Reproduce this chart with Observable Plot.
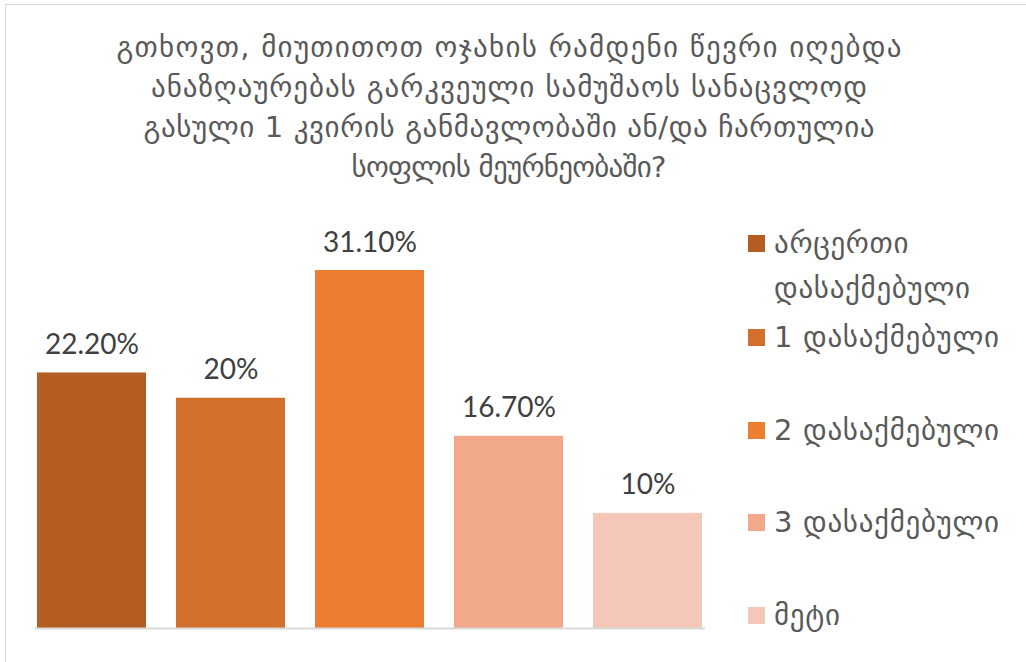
<!DOCTYPE html>
<html>
<head>
<meta charset="utf-8">
<script src="https://cdn.jsdelivr.net/npm/d3@7"></script>
<script src="https://cdn.jsdelivr.net/npm/@observablehq/plot@0.6"></script>
<style>
  html, body { margin: 0; padding: 0; background: #fff; }
  #wrap { position: relative; width: 1026px; height: 662px; overflow: hidden; background: #fff; }
  #frame { position: absolute; left: 5px; top: 4px; width: 1040px; height: 680px; border: 1.5px solid #d9d9d9; box-sizing: border-box; }
  #title { position: absolute; left: 0; width: 1018px; top: 27px; text-align: center; font-family: "DejaVu Sans", sans-serif; font-size: 29px; line-height: 40px; color: #595959; }
  #title span { display: inline-block; white-space: nowrap; }
  #chart { position: absolute; left: 0; top: 0; }
  .leg { position: absolute; left: 748px; display: flex; align-items: flex-start; font-family: "DejaVu Sans", sans-serif; font-size: 29px; line-height: 45px; color: #595959; }
  .leg span { white-space: nowrap; }
  .sw { width: 17px; height: 17px; margin-top: 14px; margin-right: 9px; flex: none; }
</style>
</head>
<body>
<div id="wrap">
  <div id="frame"></div>
  <div id="title"></div>
  <div id="chart"></div>
  <div id="legend"></div>
</div>
<script>
const titleLines = [
  "გთხოვთ, მიუთითოთ ოჯახის რამდენი წევრი იღებდა",
  "ანაზღაურებას გარკვეული სამუშაოს სანაცვლოდ",
  "გასული 1 კვირის განმავლობაში ან/და ჩართულია",
  "სოფლის მეურნეობაში?"
];
const titleWidths = [785, 716, 731, 315];
const categories = ["არცერთი დასაქმებული", "1 დასაქმებული", "2 დასაქმებული", "3 დასაქმებული", "მეტი"];
const legendLines = [["არცერთი", "დასაქმებული"], ["1 დასაქმებული"], ["2 დასაქმებული"], ["3 დასაქმებული"], ["მეტი"]];
const values = [22.2, 20, 31.1, 16.7, 10];
const valueLabels = ["22.20%", "20%", "31.10%", "16.70%", "10%"];
const colors = ["#B45D23", "#D36F2D", "#ED7D31", "#F1A88B", "#F5C7B8"];
const legendTops = [221, 315, 408, 500, 593];

const title = document.getElementById("title");
titleLines.forEach((l, i) => {
  const row = document.createElement("div");
  const s = document.createElement("span");
  s.textContent = l;
  row.appendChild(s);
  title.appendChild(row);
  const w = s.getBoundingClientRect().width;
  const n = [...l].length;
  const ls = (titleWidths[i] - w) / (n - 1);
  s.style.letterSpacing = ls + "px";
  s.style.marginRight = (-ls) + "px";
});

const data = categories.map((c, i) => ({cat: c, value: values[i], label: valueLabels[i]}));

const chart = Plot.plot({
  width: 720,
  height: 662,
  marginLeft: 35,
  marginRight: 15,
  marginTop: 270,
  marginBottom: 34,
  x: {domain: categories, paddingInner: 0.214, paddingOuter: 0, axis: null},
  y: {domain: [0, 31.1], axis: null},
  color: {domain: categories, range: colors},
  marks: [
    Plot.barY(data, {x: "cat", y: "value", fill: "cat"}),
    Plot.ruleY([0], {stroke: "#d9d9d9", strokeWidth: 2}),
    Plot.text(data, {x: "cat", y: "value", text: "label", lineAnchor: "bottom", dy: -19,
      fontFamily: "Lato, sans-serif", fontSize: 28, fill: "#404040"})
  ]
});
document.getElementById("chart").appendChild(chart);

const leg = document.getElementById("legend");
legendLines.forEach((lines, i) => {
  const d = document.createElement("div");
  d.className = "leg";
  d.style.top = legendTops[i] + "px";
  d.innerHTML = `<div class="sw" style="background:${colors[i]}"></div><div>${lines.map(t => `<span>${t}</span>`).join("<br>")}</div>`;
  leg.appendChild(d);
});
// fit legend letter spacing so "1 დასაქმებული" spans ~225px like the reference
const probe = leg.children[1].querySelector("span");
const pw = probe.getBoundingClientRect().width;
const legLs = (225 - pw) / ([...probe.textContent].length - 1);
leg.querySelectorAll("span").forEach(s => { s.style.letterSpacing = legLs + "px"; });
</script>
</body>
</html>
